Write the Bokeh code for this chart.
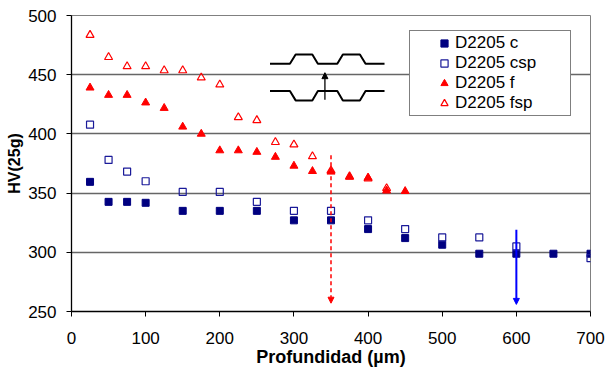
from bokeh.plotting import figure
from bokeh.models import (Range1d, Legend, LegendItem, Arrow, NormalHead, FixedTicker)
from bokeh.embed import file_html
from bokeh.resources import INLINE

# ---- data ----
depth_c = [25, 50, 75, 100, 150, 200, 250, 300, 350, 400, 450, 500, 550, 600, 650, 700]
hv_c = [359.5, 342.6, 342.6, 341.8, 335, 335, 335, 327, 327, 319.6, 312, 306.4, 298.8, 298.8, 298.8, 298.8]

depth_csp = [25, 50, 75, 100, 150, 200, 250, 300, 350, 400, 450, 500, 550, 600, 700]
hv_csp = [407.8, 378, 368.2, 360, 351, 351, 342.6, 335, 335, 327, 319.6, 312.6, 312.6, 305, 295]

depth_f = [25, 50, 75, 100, 125, 150, 175, 200, 225, 250, 275, 300, 325, 350, 375, 400, 425, 450]
hv_f = [439, 432.8, 432.8, 426.4, 421.8, 406, 400, 386, 386, 384.7, 380.5, 373, 368.5, 368, 363.7, 363, 352, 351.6]

depth_fsp = [25, 50, 75, 100, 125, 150, 175, 200, 225, 250, 275, 300, 325, 350, 375, 400, 425]
hv_fsp = [483.5, 464.8, 457, 457, 453.6, 453.6, 447.5, 441.6, 414, 411.5, 393, 391, 381, 369, 364, 362.3, 354]

series_names = ["D2205 c", "D2205 csp", "D2205 f", "D2205 fsp"]

# arrows marking depths
arrow_x = [350, 600]
arrow_top = [382, 319]
arrow_bottom = [257, 256]

# inset schematic (two profiles and an arrow)
inset_x = [267.7, 294.6, 302.3, 324.8, 332.3, 358.5, 366, 389, 396.6, 422.2]
inset_upper = [459.3, 459.3, 467.1, 467.1, 459.3, 459.3, 467.1, 467.1, 459.3, 459.3]
inset_lower = [436.2, 436.2, 428.3, 428.3, 436.2, 436.2, 428.3, 428.3, 436.2, 436.2]
inset_arrow = [341.8, 428.9, 451.7]

x_ticks = [0, 100, 200, 300, 400, 500, 600, 700]
y_ticks = [250, 300, 350, 400, 450, 500]

FONT = "Liberation Sans"
NAVY = "#000080"
RED = "#FF0000"

p = figure(width=608, height=369, output_backend="svg", toolbar_location=None,
           x_range=Range1d(0, 700), y_range=Range1d(250, 500),
           min_border_left=71, min_border_right=18, min_border_top=15, min_border_bottom=58)

p.background_fill_color = "white"
p.border_fill_color = "white"
p.outline_line_color = "#808080"
p.outline_line_width = 1

p.xgrid.grid_line_color = None
p.ygrid.grid_line_color = "#666666"
p.ygrid.grid_line_width = 1.3
p.yaxis.ticker = FixedTicker(ticks=y_ticks)
p.xaxis.ticker = FixedTicker(ticks=x_ticks)

for ax in (p.xaxis[0], p.yaxis[0]):
    ax.axis_line_color = "black"
    ax.axis_line_width = 1.3
    ax.major_tick_line_color = "black"
    ax.major_tick_in = 0
    ax.major_tick_out = 5
    ax.minor_tick_line_color = None
    ax.major_label_text_font = FONT
    ax.major_label_text_font_size = "17px"
    ax.major_label_text_color = "black"
    ax.axis_label_text_font = FONT
    ax.axis_label_text_font_style = "bold"
    ax.axis_label_text_color = "black"

p.xaxis.axis_label = "Profundidad (µm)"
p.xaxis.axis_label_text_font_size = "18px"
p.xaxis.major_label_standoff = 15
p.xaxis.axis_label_standoff = 0
p.yaxis.axis_label = "HV(25g)"
p.yaxis.axis_label_text_font_size = "16px"
p.yaxis.major_label_standoff = 10
p.yaxis.axis_label_standoff = 2

r_c = p.scatter(depth_c, hv_c, marker="square", size=7, fill_color=NAVY, line_color=NAVY, line_width=1)
r_csp = p.scatter(depth_csp, hv_csp, marker="square", size=7, fill_color=None, line_color="#1a1a99", line_width=1.2)
r_f = p.scatter(depth_f, hv_f, marker="triangle", size=8, fill_color=RED, line_color=RED, line_width=1)
r_fsp = p.scatter(depth_fsp, hv_fsp, marker="triangle", size=8, fill_color=None, line_color=RED, line_width=1.2)

# inset schematic
p.line(inset_x, inset_upper, line_color="black", line_width=2)
p.line(inset_x, inset_lower, line_color="black", line_width=2)
p.add_layout(Arrow(x_start=inset_arrow[0], y_start=inset_arrow[1], x_end=inset_arrow[0], y_end=inset_arrow[2],
                   line_color="black", line_width=1.3,
                   end=NormalHead(size=6, fill_color="black", line_color="black")))

# depth arrows
p.add_layout(Arrow(x_start=arrow_x[0], y_start=arrow_top[0], x_end=arrow_x[0], y_end=arrow_bottom[0],
                   line_color=RED, line_width=1.5, line_dash="4 3",
                   end=NormalHead(size=6, fill_color=RED, line_color=RED)))
p.add_layout(Arrow(x_start=arrow_x[1], y_start=arrow_top[1], x_end=arrow_x[1], y_end=arrow_bottom[1],
                   line_color="#0000FF", line_width=2,
                   end=NormalHead(size=6, fill_color="#0000FF", line_color="#0000FF")))

legend = Legend(items=[LegendItem(label=series_names[0], renderers=[r_c]),
                       LegendItem(label=series_names[1], renderers=[r_csp]),
                       LegendItem(label=series_names[2], renderers=[r_f]),
                       LegendItem(label=series_names[3], renderers=[r_fsp])],
                location=(338, 195), orientation="vertical")
# empty left-side title used only to reserve the legend's left margin
legend.title = " "
legend.title_location = "left"
legend.title_text_font_size = "10px"
legend.title_standoff = 12
legend.padding = 2
legend.margin = 0
legend.spacing = 0
legend.glyph_width = 18
legend.glyph_height = 18
legend.label_height = 18
legend.label_width = 113
legend.label_standoff = 2
legend.label_text_font = FONT
legend.label_text_font_size = "17px"
legend.label_text_color = "black"
legend.border_line_color = "black"
legend.border_line_width = 1
legend.background_fill_color = "white"
legend.background_fill_alpha = 1
p.add_layout(legend, "center")

open("out.html", "w").write(file_html(p, INLINE))
